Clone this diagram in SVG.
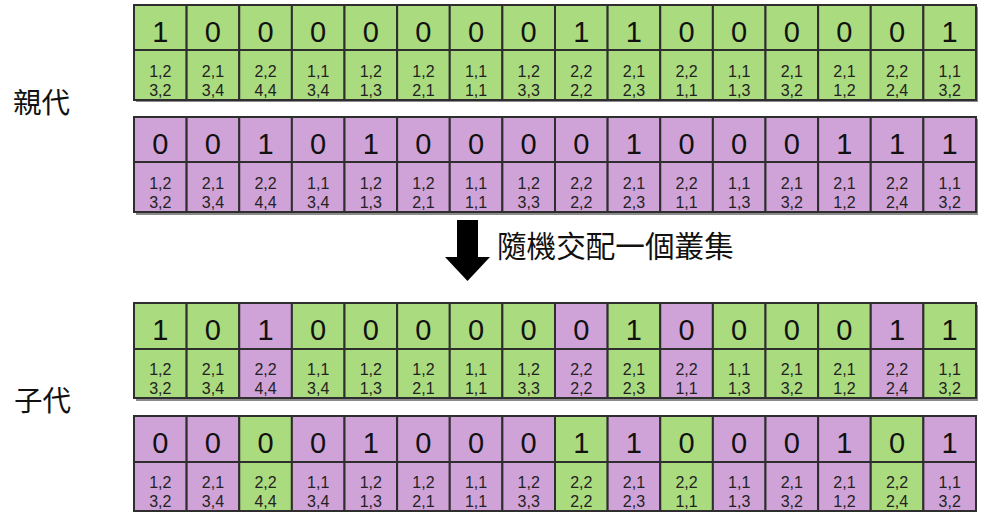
<svg xmlns="http://www.w3.org/2000/svg" width="981" height="512" viewBox="0 0 981 512">
<style>
  .cell rect { stroke: #2e2e2e; stroke-width: 2; }
  .g rect { fill: #abdb7f; }
  .p rect { fill: #d0a3d8; }
  .d { font-family: "Liberation Sans", Arial, sans-serif; font-size: 29px; text-anchor: middle; fill: #111; }
  .s { font-family: "Liberation Sans", Arial, sans-serif; font-size: 16px; text-anchor: middle; fill: #222; }
  .lbl { font-family: "Noto Sans CJK TC", "Noto Sans CJK SC", sans-serif; fill: #111; }
  .shadow { fill: #8a8a8a; }
</style>
<rect width="981" height="512" fill="#ffffff"/>

<g id="label-parent"><text class="lbl" x="13" y="113" font-size="28.5">親代</text></g>
<g id="label-child"><text class="lbl" x="14" y="411" font-size="28.5">子代</text></g>
<g id="label-crossover"><text class="lbl" x="497" y="257" font-size="29.6">隨機交配一個叢集</text></g>

<g id="connectors">
  <polygon points="457,220 478,220 478,257 490,257 467.5,281 445,257 457,257" fill="#000"/>
</g>

<!-- Parent 1 -->
<g id="parent1">
  <rect class="shadow" x="136" y="7" width="842" height="95"/>
  <g id="p1c1" class="cell g" transform="translate(134,5)"><rect width="52.625" height="45"/><rect y="45" width="52.625" height="50"/><text class="d" x="26.3" y="37">1</text><text class="s" x="26.3" y="72">1,2</text><text class="s" x="26.3" y="91">3,2</text></g>
  <g id="p1c2" class="cell g" transform="translate(186.625,5)"><rect width="52.625" height="45"/><rect y="45" width="52.625" height="50"/><text class="d" x="26.3" y="37">0</text><text class="s" x="26.3" y="72">2,1</text><text class="s" x="26.3" y="91">3,4</text></g>
  <g id="p1c3" class="cell g" transform="translate(239.25,5)"><rect width="52.625" height="45"/><rect y="45" width="52.625" height="50"/><text class="d" x="26.3" y="37">0</text><text class="s" x="26.3" y="72">2,2</text><text class="s" x="26.3" y="91">4,4</text></g>
  <g id="p1c4" class="cell g" transform="translate(291.875,5)"><rect width="52.625" height="45"/><rect y="45" width="52.625" height="50"/><text class="d" x="26.3" y="37">0</text><text class="s" x="26.3" y="72">1,1</text><text class="s" x="26.3" y="91">3,4</text></g>
  <g id="p1c5" class="cell g" transform="translate(344.5,5)"><rect width="52.625" height="45"/><rect y="45" width="52.625" height="50"/><text class="d" x="26.3" y="37">0</text><text class="s" x="26.3" y="72">1,2</text><text class="s" x="26.3" y="91">1,3</text></g>
  <g id="p1c6" class="cell g" transform="translate(397.125,5)"><rect width="52.625" height="45"/><rect y="45" width="52.625" height="50"/><text class="d" x="26.3" y="37">0</text><text class="s" x="26.3" y="72">1,2</text><text class="s" x="26.3" y="91">2,1</text></g>
  <g id="p1c7" class="cell g" transform="translate(449.75,5)"><rect width="52.625" height="45"/><rect y="45" width="52.625" height="50"/><text class="d" x="26.3" y="37">0</text><text class="s" x="26.3" y="72">1,1</text><text class="s" x="26.3" y="91">1,1</text></g>
  <g id="p1c8" class="cell g" transform="translate(502.375,5)"><rect width="52.625" height="45"/><rect y="45" width="52.625" height="50"/><text class="d" x="26.3" y="37">0</text><text class="s" x="26.3" y="72">1,2</text><text class="s" x="26.3" y="91">3,3</text></g>
  <g id="p1c9" class="cell g" transform="translate(555,5)"><rect width="52.625" height="45"/><rect y="45" width="52.625" height="50"/><text class="d" x="26.3" y="37">1</text><text class="s" x="26.3" y="72">2,2</text><text class="s" x="26.3" y="91">2,2</text></g>
  <g id="p1c10" class="cell g" transform="translate(607.625,5)"><rect width="52.625" height="45"/><rect y="45" width="52.625" height="50"/><text class="d" x="26.3" y="37">1</text><text class="s" x="26.3" y="72">2,1</text><text class="s" x="26.3" y="91">2,3</text></g>
  <g id="p1c11" class="cell g" transform="translate(660.25,5)"><rect width="52.625" height="45"/><rect y="45" width="52.625" height="50"/><text class="d" x="26.3" y="37">0</text><text class="s" x="26.3" y="72">2,2</text><text class="s" x="26.3" y="91">1,1</text></g>
  <g id="p1c12" class="cell g" transform="translate(712.875,5)"><rect width="52.625" height="45"/><rect y="45" width="52.625" height="50"/><text class="d" x="26.3" y="37">0</text><text class="s" x="26.3" y="72">1,1</text><text class="s" x="26.3" y="91">1,3</text></g>
  <g id="p1c13" class="cell g" transform="translate(765.5,5)"><rect width="52.625" height="45"/><rect y="45" width="52.625" height="50"/><text class="d" x="26.3" y="37">0</text><text class="s" x="26.3" y="72">2,1</text><text class="s" x="26.3" y="91">3,2</text></g>
  <g id="p1c14" class="cell g" transform="translate(818.125,5)"><rect width="52.625" height="45"/><rect y="45" width="52.625" height="50"/><text class="d" x="26.3" y="37">0</text><text class="s" x="26.3" y="72">2,1</text><text class="s" x="26.3" y="91">1,2</text></g>
  <g id="p1c15" class="cell g" transform="translate(870.75,5)"><rect width="52.625" height="45"/><rect y="45" width="52.625" height="50"/><text class="d" x="26.3" y="37">0</text><text class="s" x="26.3" y="72">2,2</text><text class="s" x="26.3" y="91">2,4</text></g>
  <g id="p1c16" class="cell g" transform="translate(923.375,5)"><rect width="52.625" height="45"/><rect y="45" width="52.625" height="50"/><text class="d" x="26.3" y="37">1</text><text class="s" x="26.3" y="72">1,1</text><text class="s" x="26.3" y="91">3,2</text></g>
</g>

<!-- Parent 2 -->
<g id="parent2">
  <rect class="shadow" x="136" y="119" width="842" height="96"/>
  <g id="p2c1" class="cell p" transform="translate(134,117)"><rect width="52.625" height="45"/><rect y="45" width="52.625" height="50"/><text class="d" x="26.3" y="37">0</text><text class="s" x="26.3" y="72">1,2</text><text class="s" x="26.3" y="91">3,2</text></g>
  <g id="p2c2" class="cell p" transform="translate(186.625,117)"><rect width="52.625" height="45"/><rect y="45" width="52.625" height="50"/><text class="d" x="26.3" y="37">0</text><text class="s" x="26.3" y="72">2,1</text><text class="s" x="26.3" y="91">3,4</text></g>
  <g id="p2c3" class="cell p" transform="translate(239.25,117)"><rect width="52.625" height="45"/><rect y="45" width="52.625" height="50"/><text class="d" x="26.3" y="37">1</text><text class="s" x="26.3" y="72">2,2</text><text class="s" x="26.3" y="91">4,4</text></g>
  <g id="p2c4" class="cell p" transform="translate(291.875,117)"><rect width="52.625" height="45"/><rect y="45" width="52.625" height="50"/><text class="d" x="26.3" y="37">0</text><text class="s" x="26.3" y="72">1,1</text><text class="s" x="26.3" y="91">3,4</text></g>
  <g id="p2c5" class="cell p" transform="translate(344.5,117)"><rect width="52.625" height="45"/><rect y="45" width="52.625" height="50"/><text class="d" x="26.3" y="37">1</text><text class="s" x="26.3" y="72">1,2</text><text class="s" x="26.3" y="91">1,3</text></g>
  <g id="p2c6" class="cell p" transform="translate(397.125,117)"><rect width="52.625" height="45"/><rect y="45" width="52.625" height="50"/><text class="d" x="26.3" y="37">0</text><text class="s" x="26.3" y="72">1,2</text><text class="s" x="26.3" y="91">2,1</text></g>
  <g id="p2c7" class="cell p" transform="translate(449.75,117)"><rect width="52.625" height="45"/><rect y="45" width="52.625" height="50"/><text class="d" x="26.3" y="37">0</text><text class="s" x="26.3" y="72">1,1</text><text class="s" x="26.3" y="91">1,1</text></g>
  <g id="p2c8" class="cell p" transform="translate(502.375,117)"><rect width="52.625" height="45"/><rect y="45" width="52.625" height="50"/><text class="d" x="26.3" y="37">0</text><text class="s" x="26.3" y="72">1,2</text><text class="s" x="26.3" y="91">3,3</text></g>
  <g id="p2c9" class="cell p" transform="translate(555,117)"><rect width="52.625" height="45"/><rect y="45" width="52.625" height="50"/><text class="d" x="26.3" y="37">0</text><text class="s" x="26.3" y="72">2,2</text><text class="s" x="26.3" y="91">2,2</text></g>
  <g id="p2c10" class="cell p" transform="translate(607.625,117)"><rect width="52.625" height="45"/><rect y="45" width="52.625" height="50"/><text class="d" x="26.3" y="37">1</text><text class="s" x="26.3" y="72">2,1</text><text class="s" x="26.3" y="91">2,3</text></g>
  <g id="p2c11" class="cell p" transform="translate(660.25,117)"><rect width="52.625" height="45"/><rect y="45" width="52.625" height="50"/><text class="d" x="26.3" y="37">0</text><text class="s" x="26.3" y="72">2,2</text><text class="s" x="26.3" y="91">1,1</text></g>
  <g id="p2c12" class="cell p" transform="translate(712.875,117)"><rect width="52.625" height="45"/><rect y="45" width="52.625" height="50"/><text class="d" x="26.3" y="37">0</text><text class="s" x="26.3" y="72">1,1</text><text class="s" x="26.3" y="91">1,3</text></g>
  <g id="p2c13" class="cell p" transform="translate(765.5,117)"><rect width="52.625" height="45"/><rect y="45" width="52.625" height="50"/><text class="d" x="26.3" y="37">0</text><text class="s" x="26.3" y="72">2,1</text><text class="s" x="26.3" y="91">3,2</text></g>
  <g id="p2c14" class="cell p" transform="translate(818.125,117)"><rect width="52.625" height="45"/><rect y="45" width="52.625" height="50"/><text class="d" x="26.3" y="37">1</text><text class="s" x="26.3" y="72">2,1</text><text class="s" x="26.3" y="91">1,2</text></g>
  <g id="p2c15" class="cell p" transform="translate(870.75,117)"><rect width="52.625" height="45"/><rect y="45" width="52.625" height="50"/><text class="d" x="26.3" y="37">1</text><text class="s" x="26.3" y="72">2,2</text><text class="s" x="26.3" y="91">2,4</text></g>
  <g id="p2c16" class="cell p" transform="translate(923.375,117)"><rect width="52.625" height="45"/><rect y="45" width="52.625" height="50"/><text class="d" x="26.3" y="37">1</text><text class="s" x="26.3" y="72">1,1</text><text class="s" x="26.3" y="91">3,2</text></g>
</g>

<!-- Child 1 -->
<g id="child1">
  <rect class="shadow" x="136" y="305" width="842" height="96"/>
  <g id="c1c1" class="cell g" transform="translate(134,303)"><rect width="52.625" height="46"/><rect y="46" width="52.625" height="49"/><text class="d" x="26.3" y="37">1</text><text class="s" x="26.3" y="72">1,2</text><text class="s" x="26.3" y="91">3,2</text></g>
  <g id="c1c2" class="cell g" transform="translate(186.625,303)"><rect width="52.625" height="46"/><rect y="46" width="52.625" height="49"/><text class="d" x="26.3" y="37">0</text><text class="s" x="26.3" y="72">2,1</text><text class="s" x="26.3" y="91">3,4</text></g>
  <g id="c1c3" class="cell p" transform="translate(239.25,303)"><rect width="52.625" height="46"/><rect y="46" width="52.625" height="49"/><text class="d" x="26.3" y="37">1</text><text class="s" x="26.3" y="72">2,2</text><text class="s" x="26.3" y="91">4,4</text></g>
  <g id="c1c4" class="cell g" transform="translate(291.875,303)"><rect width="52.625" height="46"/><rect y="46" width="52.625" height="49"/><text class="d" x="26.3" y="37">0</text><text class="s" x="26.3" y="72">1,1</text><text class="s" x="26.3" y="91">3,4</text></g>
  <g id="c1c5" class="cell g" transform="translate(344.5,303)"><rect width="52.625" height="46"/><rect y="46" width="52.625" height="49"/><text class="d" x="26.3" y="37">0</text><text class="s" x="26.3" y="72">1,2</text><text class="s" x="26.3" y="91">1,3</text></g>
  <g id="c1c6" class="cell g" transform="translate(397.125,303)"><rect width="52.625" height="46"/><rect y="46" width="52.625" height="49"/><text class="d" x="26.3" y="37">0</text><text class="s" x="26.3" y="72">1,2</text><text class="s" x="26.3" y="91">2,1</text></g>
  <g id="c1c7" class="cell g" transform="translate(449.75,303)"><rect width="52.625" height="46"/><rect y="46" width="52.625" height="49"/><text class="d" x="26.3" y="37">0</text><text class="s" x="26.3" y="72">1,1</text><text class="s" x="26.3" y="91">1,1</text></g>
  <g id="c1c8" class="cell g" transform="translate(502.375,303)"><rect width="52.625" height="46"/><rect y="46" width="52.625" height="49"/><text class="d" x="26.3" y="37">0</text><text class="s" x="26.3" y="72">1,2</text><text class="s" x="26.3" y="91">3,3</text></g>
  <g id="c1c9" class="cell p" transform="translate(555,303)"><rect width="52.625" height="46"/><rect y="46" width="52.625" height="49"/><text class="d" x="26.3" y="37">0</text><text class="s" x="26.3" y="72">2,2</text><text class="s" x="26.3" y="91">2,2</text></g>
  <g id="c1c10" class="cell g" transform="translate(607.625,303)"><rect width="52.625" height="46"/><rect y="46" width="52.625" height="49"/><text class="d" x="26.3" y="37">1</text><text class="s" x="26.3" y="72">2,1</text><text class="s" x="26.3" y="91">2,3</text></g>
  <g id="c1c11" class="cell p" transform="translate(660.25,303)"><rect width="52.625" height="46"/><rect y="46" width="52.625" height="49"/><text class="d" x="26.3" y="37">0</text><text class="s" x="26.3" y="72">2,2</text><text class="s" x="26.3" y="91">1,1</text></g>
  <g id="c1c12" class="cell g" transform="translate(712.875,303)"><rect width="52.625" height="46"/><rect y="46" width="52.625" height="49"/><text class="d" x="26.3" y="37">0</text><text class="s" x="26.3" y="72">1,1</text><text class="s" x="26.3" y="91">1,3</text></g>
  <g id="c1c13" class="cell g" transform="translate(765.5,303)"><rect width="52.625" height="46"/><rect y="46" width="52.625" height="49"/><text class="d" x="26.3" y="37">0</text><text class="s" x="26.3" y="72">2,1</text><text class="s" x="26.3" y="91">3,2</text></g>
  <g id="c1c14" class="cell g" transform="translate(818.125,303)"><rect width="52.625" height="46"/><rect y="46" width="52.625" height="49"/><text class="d" x="26.3" y="37">0</text><text class="s" x="26.3" y="72">2,1</text><text class="s" x="26.3" y="91">1,2</text></g>
  <g id="c1c15" class="cell p" transform="translate(870.75,303)"><rect width="52.625" height="46"/><rect y="46" width="52.625" height="49"/><text class="d" x="26.3" y="37">1</text><text class="s" x="26.3" y="72">2,2</text><text class="s" x="26.3" y="91">2,4</text></g>
  <g id="c1c16" class="cell g" transform="translate(923.375,303)"><rect width="52.625" height="46"/><rect y="46" width="52.625" height="49"/><text class="d" x="26.3" y="37">1</text><text class="s" x="26.3" y="72">1,1</text><text class="s" x="26.3" y="91">3,2</text></g>
</g>

<!-- Child 2 -->
<g id="child2">
  <g id="c2c1" class="cell p" transform="translate(134,416)"><rect width="52.625" height="46"/><rect y="46" width="52.625" height="49"/><text class="d" x="26.3" y="37">0</text><text class="s" x="26.3" y="72">1,2</text><text class="s" x="26.3" y="91">3,2</text></g>
  <g id="c2c2" class="cell p" transform="translate(186.625,416)"><rect width="52.625" height="46"/><rect y="46" width="52.625" height="49"/><text class="d" x="26.3" y="37">0</text><text class="s" x="26.3" y="72">2,1</text><text class="s" x="26.3" y="91">3,4</text></g>
  <g id="c2c3" class="cell g" transform="translate(239.25,416)"><rect width="52.625" height="46"/><rect y="46" width="52.625" height="49"/><text class="d" x="26.3" y="37">0</text><text class="s" x="26.3" y="72">2,2</text><text class="s" x="26.3" y="91">4,4</text></g>
  <g id="c2c4" class="cell p" transform="translate(291.875,416)"><rect width="52.625" height="46"/><rect y="46" width="52.625" height="49"/><text class="d" x="26.3" y="37">0</text><text class="s" x="26.3" y="72">1,1</text><text class="s" x="26.3" y="91">3,4</text></g>
  <g id="c2c5" class="cell p" transform="translate(344.5,416)"><rect width="52.625" height="46"/><rect y="46" width="52.625" height="49"/><text class="d" x="26.3" y="37">1</text><text class="s" x="26.3" y="72">1,2</text><text class="s" x="26.3" y="91">1,3</text></g>
  <g id="c2c6" class="cell p" transform="translate(397.125,416)"><rect width="52.625" height="46"/><rect y="46" width="52.625" height="49"/><text class="d" x="26.3" y="37">0</text><text class="s" x="26.3" y="72">1,2</text><text class="s" x="26.3" y="91">2,1</text></g>
  <g id="c2c7" class="cell p" transform="translate(449.75,416)"><rect width="52.625" height="46"/><rect y="46" width="52.625" height="49"/><text class="d" x="26.3" y="37">0</text><text class="s" x="26.3" y="72">1,1</text><text class="s" x="26.3" y="91">1,1</text></g>
  <g id="c2c8" class="cell p" transform="translate(502.375,416)"><rect width="52.625" height="46"/><rect y="46" width="52.625" height="49"/><text class="d" x="26.3" y="37">0</text><text class="s" x="26.3" y="72">1,2</text><text class="s" x="26.3" y="91">3,3</text></g>
  <g id="c2c9" class="cell g" transform="translate(555,416)"><rect width="52.625" height="46"/><rect y="46" width="52.625" height="49"/><text class="d" x="26.3" y="37">1</text><text class="s" x="26.3" y="72">2,2</text><text class="s" x="26.3" y="91">2,2</text></g>
  <g id="c2c10" class="cell p" transform="translate(607.625,416)"><rect width="52.625" height="46"/><rect y="46" width="52.625" height="49"/><text class="d" x="26.3" y="37">1</text><text class="s" x="26.3" y="72">2,1</text><text class="s" x="26.3" y="91">2,3</text></g>
  <g id="c2c11" class="cell g" transform="translate(660.25,416)"><rect width="52.625" height="46"/><rect y="46" width="52.625" height="49"/><text class="d" x="26.3" y="37">0</text><text class="s" x="26.3" y="72">2,2</text><text class="s" x="26.3" y="91">1,1</text></g>
  <g id="c2c12" class="cell p" transform="translate(712.875,416)"><rect width="52.625" height="46"/><rect y="46" width="52.625" height="49"/><text class="d" x="26.3" y="37">0</text><text class="s" x="26.3" y="72">1,1</text><text class="s" x="26.3" y="91">1,3</text></g>
  <g id="c2c13" class="cell p" transform="translate(765.5,416)"><rect width="52.625" height="46"/><rect y="46" width="52.625" height="49"/><text class="d" x="26.3" y="37">0</text><text class="s" x="26.3" y="72">2,1</text><text class="s" x="26.3" y="91">3,2</text></g>
  <g id="c2c14" class="cell p" transform="translate(818.125,416)"><rect width="52.625" height="46"/><rect y="46" width="52.625" height="49"/><text class="d" x="26.3" y="37">1</text><text class="s" x="26.3" y="72">2,1</text><text class="s" x="26.3" y="91">1,2</text></g>
  <g id="c2c15" class="cell g" transform="translate(870.75,416)"><rect width="52.625" height="46"/><rect y="46" width="52.625" height="49"/><text class="d" x="26.3" y="37">0</text><text class="s" x="26.3" y="72">2,2</text><text class="s" x="26.3" y="91">2,4</text></g>
  <g id="c2c16" class="cell p" transform="translate(923.375,416)"><rect width="52.625" height="46"/><rect y="46" width="52.625" height="49"/><text class="d" x="26.3" y="37">1</text><text class="s" x="26.3" y="72">1,1</text><text class="s" x="26.3" y="91">3,2</text></g>
</g>
</svg>
